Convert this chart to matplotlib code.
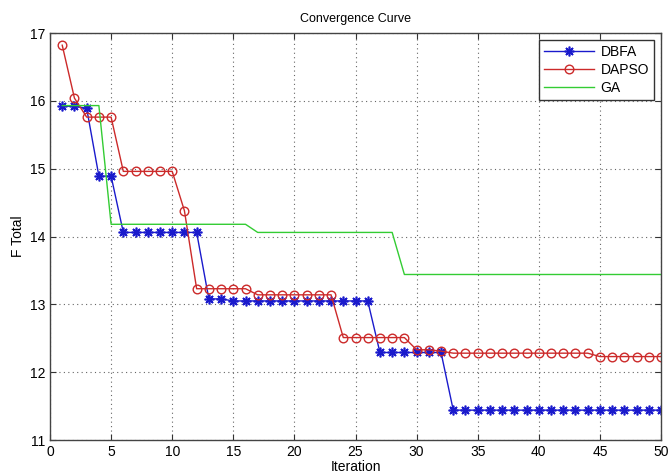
import matplotlib
matplotlib.use("Agg")
import matplotlib.pyplot as plt
import numpy as np

iterations = list(range(1, 51))
dbfa = [15.92, 15.92, 15.89, 14.89, 14.89] + [14.06]*7 + [13.08]*2 + [13.05]*12 + [12.29]*6 + [11.44]*18
dapso = [16.82, 16.04] + [15.76]*3 + [14.96]*5 + [14.38] + [13.23]*5 + [13.14]*7 + [12.51]*6 + [12.33]*2 + [12.31] + [12.28]*12 + [12.23]*6
ga = [15.93]*4 + [14.18]*12 + [14.06]*12 + [13.44]*22
x_ticks = list(range(0, 51, 5))
y_ticks = list(range(11, 18))

plt.rcParams['font.family'] = ['Liberation Sans', 'DejaVu Sans']
fig = plt.figure(figsize=(6.68, 4.76), dpi=100)
ax = fig.add_axes([50/668, 36/476, 611/668, 407/476])

ax.plot(iterations, dbfa, color='#1a1acc', lw=1.0, marker=(8, 2, 0), ms=7, mec='#1a1acc', mew=1.2, label='DBFA')
ax.plot(iterations, dapso, color='#cc2a2a', lw=1.0, marker='o', ms=6.2, mfc='none', mec='#cc2a2a', mew=1.0, label='DAPSO')
ax.plot(iterations, ga, color='#33cc33', lw=1.0, label='GA')

ax.set_xlim(0, 50)
ax.set_ylim(11, 17)
ax.set_xticks(x_ticks)
ax.set_yticks(y_ticks)
ax.tick_params(direction='in', top=True, right=True, labelsize=10, length=4, color='#333333')
ax.grid(True, linestyle=(0, (1, 3)), color='#666666', lw=0.8)
for s in ax.spines.values():
    s.set_color('#444444')
    s.set_linewidth(1.0)

ax.set_title('Convergence Curve', fontsize=9, pad=8)
ax.set_xlabel('Iteration', fontsize=10, labelpad=1)
ax.set_ylabel('F Total', fontsize=10, labelpad=3)

leg = ax.legend(loc='upper right', fontsize=10, fancybox=False, framealpha=1, edgecolor='#333333',
                handlelength=3.6, borderaxespad=0.5, labelspacing=0.3, borderpad=0.35, handletextpad=0.5)
leg.get_frame().set_linewidth(1.0)

fig.savefig('out.png', dpi=100)
